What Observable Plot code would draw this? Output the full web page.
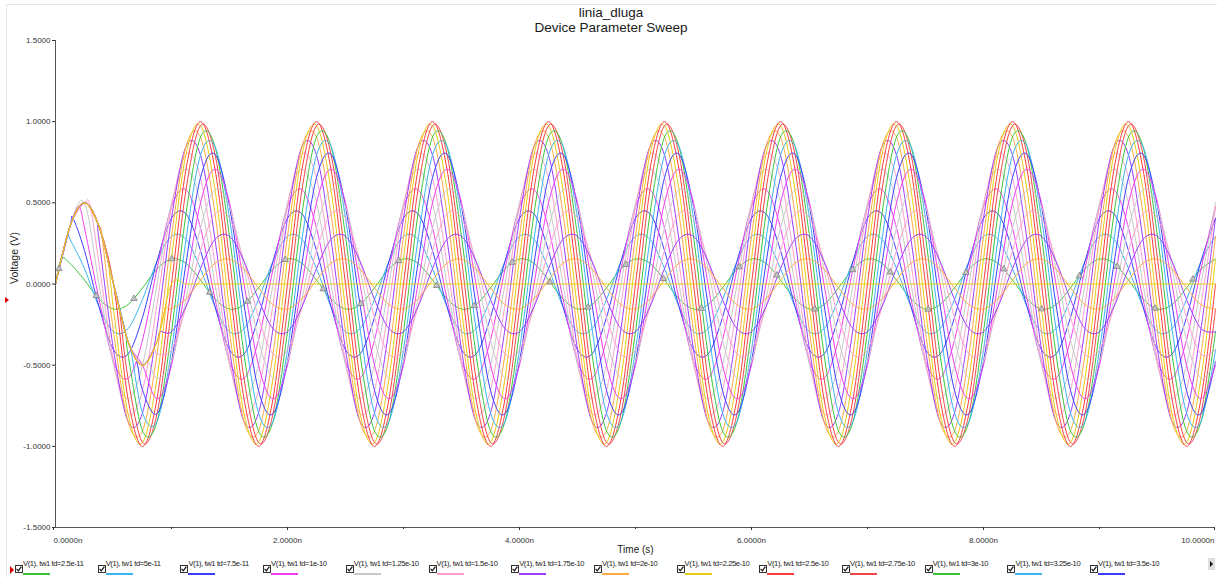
<!DOCTYPE html>
<html>
<head>
<meta charset="utf-8">
<script src="https://cdn.jsdelivr.net/npm/d3@7"></script>
<script src="https://cdn.jsdelivr.net/npm/@observablehq/plot@0.6"></script>
<style>
html,body{margin:0;padding:0;background:#fff;width:1217px;height:577px;overflow:hidden;font-family:"Liberation Sans",Arial,sans-serif;}
#frame{position:absolute;left:6px;top:4px;width:1240px;height:620px;border:1px solid #e4e4e4;}
#title{position:absolute;left:0;top:5px;width:1222px;text-align:center;font-size:13.5px;line-height:15px;color:#1a1a1a;}
#chart{position:absolute;left:0;top:36px;}
#legend{position:absolute;left:0;top:559px;width:1217px;height:18px;}
.entry{position:absolute;top:0;height:18px;width:82px;}
.entry svg.cb{position:absolute;left:0;top:6px;}
.entry .lab{position:absolute;left:8px;top:0;font-size:7.6px;line-height:9px;letter-spacing:-0.4px;color:#222;white-space:nowrap;}
.entry .ul{position:absolute;left:8px;top:14px;width:27px;height:1.5px;}
#mk1{position:absolute;left:5px;top:297px;width:0;height:0;border-top:3px solid transparent;border-bottom:3px solid transparent;border-left:4px solid #e00000;}
#mk2{position:absolute;left:10px;top:566px;width:0;height:0;border-top:4px solid transparent;border-bottom:4px solid transparent;border-left:4px solid #e00000;}
#more{position:absolute;left:1208px;top:558px;width:7px;height:12px;background:#ddd;}
#more:after{content:"";position:absolute;left:2px;top:3px;border-top:3px solid transparent;border-bottom:3px solid transparent;border-left:3px solid #111;}
</style>
</head>
<body>
<div id="frame"></div>
<div id="title">linia_dluga<br>Device Parameter Sweep</div>
<div id="chart"></div>
<div id="mk1"></div>
<div id="legend"></div>
<div id="mk2"></div>
<div id="more"></div>
<script>
// ---- data ----
const tdLabels = ["2.5e-11","5e-11","7.5e-11","1e-10","1.25e-10","1.5e-10","1.75e-10","2e-10","2.25e-10","2.5e-10",
  "2.75e-10","3e-10","3.25e-10","3.5e-10","3.75e-10","4e-10","4.25e-10","4.5e-10","4.75e-10","5e-10"];
const seriesColors = ["#3cc43c","#3cb4f0","#3c3cff","#f03cf0","#c8c8c8","#ff9fd0","#9b3cff","#ffaa44","#e8cc10","#ff3c3c",
  "#f04848","#3cc43c","#3cb4f0","#3c3cff","#f03cf0","#c8c8c8","#ff9fd0","#9b3cff","#ffaa44","#e8cc10"];
const legendVisible = 14;

const timeNs = [
0,.125,.25,.375,.5,.625,.75,.875,
1,1.125,1.25,1.375,1.5,1.625,1.75,1.875,
2,2.125,2.25,2.375,2.5,2.625,2.75,2.875,
3,3.125,3.25,3.375,3.5,3.625,3.75,3.875,
4,4.125,4.25,4.375,4.5,4.625,4.75,4.875,
5,5.125,5.25,5.375,5.5,5.625,5.75,5.875,
6,6.125,6.25,6.375,6.5,6.625,6.75,6.875,
7,7.125,7.25,7.375,7.5,7.625,7.75,7.875,
8,8.125,8.25,8.375,8.5,8.625,8.75,8.875,
9,9.125,9.25,9.375,9.5,9.625,9.75,9.875,
10];

const v01 = [
0,.127,.024,-.092,-.154,-.127,-.024,.092,
.154,.127,.024,-.092,-.154,-.127,-.024,.092,
.154,.127,.024,-.092,-.154,-.127,-.024,.092,
.154,.127,.024,-.092,-.154,-.127,-.024,.092,
.154,.127,.024,-.092,-.154,-.127,-.024,.092,
.154,.127,.024,-.092,-.154,-.127,-.024,.092,
.154,.127,.024,-.092,-.154,-.127,-.024,.092,
.154,.127,.024,-.092,-.154,-.127,-.024,.092,
.154,.127,.024,-.092,-.154,-.127,-.024,.092,
.154,.127,.024,-.092,-.154,-.127,-.024,.092,
.154];
const v02 = [
0,.275,.095,-.14,-.294,-.275,-.095,.14,
.294,.275,.095,-.14,-.294,-.275,-.095,.14,
.294,.275,.095,-.14,-.294,-.275,-.095,.14,
.294,.275,.095,-.14,-.294,-.275,-.095,.14,
.294,.275,.095,-.14,-.294,-.275,-.095,.14,
.294,.275,.095,-.14,-.294,-.275,-.095,.14,
.294,.275,.095,-.14,-.294,-.275,-.095,.14,
.294,.275,.095,-.14,-.294,-.275,-.095,.14,
.294,.275,.095,-.14,-.294,-.275,-.095,.14,
.294,.275,.095,-.14,-.294,-.275,-.095,.14,
.294];
const v03 = [
0,.354,.206,-.14,-.405,-.432,-.206,.14,
.405,.432,.206,-.14,-.405,-.432,-.206,.14,
.405,.432,.206,-.14,-.405,-.432,-.206,.14,
.405,.432,.206,-.14,-.405,-.432,-.206,.14,
.405,.432,.206,-.14,-.405,-.432,-.206,.14,
.405,.432,.206,-.14,-.405,-.432,-.206,.14,
.405,.432,.206,-.14,-.405,-.432,-.206,.14,
.405,.432,.206,-.14,-.405,-.432,-.206,.14,
.405,.432,.206,-.14,-.405,-.432,-.206,.14,
.405,.432,.206,-.14,-.405,-.432,-.206,.14,
.405];
const v04 = [
0,.354,.345,-.092,-.476,-.581,-.345,.092,
.476,.581,.345,-.092,-.476,-.581,-.345,.092,
.476,.581,.345,-.092,-.476,-.581,-.345,.092,
.476,.581,.345,-.092,-.476,-.581,-.345,.092,
.476,.581,.345,-.092,-.476,-.581,-.345,.092,
.476,.581,.345,-.092,-.476,-.581,-.345,.092,
.476,.581,.345,-.092,-.476,-.581,-.345,.092,
.476,.581,.345,-.092,-.476,-.581,-.345,.092,
.476,.581,.345,-.092,-.476,-.581,-.345,.092,
.476,.581,.345,-.092,-.476,-.581,-.345,.092,
.476];
const v05 = [
0,.354,.5,0,-.5,-.707,-.5,0,
.5,.707,.5,0,-.5,-.707,-.5,0,
.5,.707,.5,0,-.5,-.707,-.5,0,
.5,.707,.5,0,-.5,-.707,-.5,0,
.5,.707,.5,0,-.5,-.707,-.5,0,
.5,.707,.5,0,-.5,-.707,-.5,0,
.5,.707,.5,0,-.5,-.707,-.5,0,
.5,.707,.5,0,-.5,-.707,-.5,0,
.5,.707,.5,0,-.5,-.707,-.5,0,
.5,.707,.5,0,-.5,-.707,-.5,0,
.5];
const v06 = [
0,.354,.5,.127,-.476,-.799,-.655,-.127,
.476,.799,.655,.127,-.476,-.799,-.655,-.127,
.476,.799,.655,.127,-.476,-.799,-.655,-.127,
.476,.799,.655,.127,-.476,-.799,-.655,-.127,
.476,.799,.655,.127,-.476,-.799,-.655,-.127,
.476,.799,.655,.127,-.476,-.799,-.655,-.127,
.476,.799,.655,.127,-.476,-.799,-.655,-.127,
.476,.799,.655,.127,-.476,-.799,-.655,-.127,
.476,.799,.655,.127,-.476,-.799,-.655,-.127,
.476,.799,.655,.127,-.476,-.799,-.655,-.127,
.476];
const v07 = [
0,.354,.5,.275,-.405,-.847,-.794,-.275,
.405,.847,.794,.275,-.405,-.847,-.794,-.275,
.405,.847,.794,.275,-.405,-.847,-.794,-.275,
.405,.847,.794,.275,-.405,-.847,-.794,-.275,
.405,.847,.794,.275,-.405,-.847,-.794,-.275,
.405,.847,.794,.275,-.405,-.847,-.794,-.275,
.405,.847,.794,.275,-.405,-.847,-.794,-.275,
.405,.847,.794,.275,-.405,-.847,-.794,-.275,
.405,.847,.794,.275,-.405,-.847,-.794,-.275,
.405,.847,.794,.275,-.405,-.847,-.794,-.275,
.405];
const v08 = [
0,.354,.5,.354,-.294,-.847,-.905,-.432,
.294,.847,.905,.432,-.294,-.847,-.905,-.432,
.294,.847,.905,.432,-.294,-.847,-.905,-.432,
.294,.847,.905,.432,-.294,-.847,-.905,-.432,
.294,.847,.905,.432,-.294,-.847,-.905,-.432,
.294,.847,.905,.432,-.294,-.847,-.905,-.432,
.294,.847,.905,.432,-.294,-.847,-.905,-.432,
.294,.847,.905,.432,-.294,-.847,-.905,-.432,
.294,.847,.905,.432,-.294,-.847,-.905,-.432,
.294,.847,.905,.432,-.294,-.847,-.905,-.432,
.294];
const v09 = [
0,.354,.5,.354,-.155,-.799,-.976,-.581,
.155,.799,.976,.581,-.155,-.799,-.976,-.581,
.155,.799,.976,.581,-.155,-.799,-.976,-.581,
.155,.799,.976,.581,-.155,-.799,-.976,-.581,
.155,.799,.976,.581,-.155,-.799,-.976,-.581,
.155,.799,.976,.581,-.155,-.799,-.976,-.581,
.155,.799,.976,.581,-.155,-.799,-.976,-.581,
.155,.799,.976,.581,-.155,-.799,-.976,-.581,
.155,.799,.976,.581,-.155,-.799,-.976,-.581,
.155,.799,.976,.581,-.155,-.799,-.976,-.581,
.155];
const v10 = [
0,.354,.5,.354,0,-.707,-1,-.707,
0,.707,1,.707,0,-.707,-1,-.707,
0,.707,1,.707,0,-.707,-1,-.707,
0,.707,1,.707,0,-.707,-1,-.707,
0,.707,1,.707,0,-.707,-1,-.707,
0,.707,1,.707,0,-.707,-1,-.707,
0,.707,1,.707,0,-.707,-1,-.707,
0,.707,1,.707,0,-.707,-1,-.707,
0,.707,1,.707,0,-.707,-1,-.707,
0,.707,1,.707,0,-.707,-1,-.707,
0];
const v11 = [
0,.354,.5,.354,0,-.581,-.976,-.799,
-.155,.581,.976,.799,.155,-.581,-.976,-.799,
-.155,.581,.976,.799,.155,-.581,-.976,-.799,
-.155,.581,.976,.799,.155,-.581,-.976,-.799,
-.155,.581,.976,.799,.155,-.581,-.976,-.799,
-.155,.581,.976,.799,.155,-.581,-.976,-.799,
-.155,.581,.976,.799,.155,-.581,-.976,-.799,
-.155,.581,.976,.799,.155,-.581,-.976,-.799,
-.155,.581,.976,.799,.155,-.581,-.976,-.799,
-.155,.581,.976,.799,.155,-.581,-.976,-.799,
-.155];
const v12 = [
0,.354,.5,.354,0,-.432,-.905,-.847,
-.294,.432,.905,.847,.294,-.432,-.905,-.847,
-.294,.432,.905,.847,.294,-.432,-.905,-.847,
-.294,.432,.905,.847,.294,-.432,-.905,-.847,
-.294,.432,.905,.847,.294,-.432,-.905,-.847,
-.294,.432,.905,.847,.294,-.432,-.905,-.847,
-.294,.432,.905,.847,.294,-.432,-.905,-.847,
-.294,.432,.905,.847,.294,-.432,-.905,-.847,
-.294,.432,.905,.847,.294,-.432,-.905,-.847,
-.294,.432,.905,.847,.294,-.432,-.905,-.847,
-.294];
const v13 = [
0,.354,.5,.354,0,-.354,-.794,-.847,
-.405,.275,.794,.847,.405,-.275,-.794,-.847,
-.405,.275,.794,.847,.405,-.275,-.794,-.847,
-.405,.275,.794,.847,.405,-.275,-.794,-.847,
-.405,.275,.794,.847,.405,-.275,-.794,-.847,
-.405,.275,.794,.847,.405,-.275,-.794,-.847,
-.405,.275,.794,.847,.405,-.275,-.794,-.847,
-.405,.275,.794,.847,.405,-.275,-.794,-.847,
-.405,.275,.794,.847,.405,-.275,-.794,-.847,
-.405,.275,.794,.847,.405,-.275,-.794,-.847,
-.405];
const v14 = [
0,.354,.5,.354,0,-.354,-.655,-.799,
-.476,.127,.655,.799,.476,-.127,-.655,-.799,
-.476,.127,.655,.799,.476,-.127,-.655,-.799,
-.476,.127,.655,.799,.476,-.127,-.655,-.799,
-.476,.127,.655,.799,.476,-.127,-.655,-.799,
-.476,.127,.655,.799,.476,-.127,-.655,-.799,
-.476,.127,.655,.799,.476,-.127,-.655,-.799,
-.476,.127,.655,.799,.476,-.127,-.655,-.799,
-.476,.127,.655,.799,.476,-.127,-.655,-.799,
-.476,.127,.655,.799,.476,-.127,-.655,-.799,
-.476];
const v15 = [
0,.354,.5,.354,0,-.354,-.5,-.707,
-.5,0,.5,.707,.5,0,-.5,-.707,
-.5,0,.5,.707,.5,0,-.5,-.707,
-.5,0,.5,.707,.5,0,-.5,-.707,
-.5,0,.5,.707,.5,0,-.5,-.707,
-.5,0,.5,.707,.5,0,-.5,-.707,
-.5,0,.5,.707,.5,0,-.5,-.707,
-.5,0,.5,.707,.5,0,-.5,-.707,
-.5,0,.5,.707,.5,0,-.5,-.707,
-.5,0,.5,.707,.5,0,-.5,-.707,
-.5];
const v16 = [
0,.354,.5,.354,0,-.354,-.5,-.581,
-.476,-.092,.345,.581,.476,.092,-.345,-.581,
-.476,-.092,.345,.581,.476,.092,-.345,-.581,
-.476,-.092,.345,.581,.476,.092,-.345,-.581,
-.476,-.092,.345,.581,.476,.092,-.345,-.581,
-.476,-.092,.345,.581,.476,.092,-.345,-.581,
-.476,-.092,.345,.581,.476,.092,-.345,-.581,
-.476,-.092,.345,.581,.476,.092,-.345,-.581,
-.476,-.092,.345,.581,.476,.092,-.345,-.581,
-.476,-.092,.345,.581,.476,.092,-.345,-.581,
-.476];
const v17 = [
0,.354,.5,.354,0,-.354,-.5,-.432,
-.405,-.14,.206,.432,.405,.14,-.206,-.432,
-.405,-.14,.206,.432,.405,.14,-.206,-.432,
-.405,-.14,.206,.432,.405,.14,-.206,-.432,
-.405,-.14,.206,.432,.405,.14,-.206,-.432,
-.405,-.14,.206,.432,.405,.14,-.206,-.432,
-.405,-.14,.206,.432,.405,.14,-.206,-.432,
-.405,-.14,.206,.432,.405,.14,-.206,-.432,
-.405,-.14,.206,.432,.405,.14,-.206,-.432,
-.405,-.14,.206,.432,.405,.14,-.206,-.432,
-.405];
const v18 = [
0,.354,.5,.354,0,-.354,-.5,-.354,
-.294,-.14,.095,.275,.294,.14,-.095,-.275,
-.294,-.14,.095,.275,.294,.14,-.095,-.275,
-.294,-.14,.095,.275,.294,.14,-.095,-.275,
-.294,-.14,.095,.275,.294,.14,-.095,-.275,
-.294,-.14,.095,.275,.294,.14,-.095,-.275,
-.294,-.14,.095,.275,.294,.14,-.095,-.275,
-.294,-.14,.095,.275,.294,.14,-.095,-.275,
-.294,-.14,.095,.275,.294,.14,-.095,-.275,
-.294,-.14,.095,.275,.294,.14,-.095,-.275,
-.294];
const v19 = [
0,.354,.5,.354,0,-.354,-.5,-.354,
-.154,-.092,.024,.127,.154,.092,-.024,-.127,
-.154,-.092,.024,.127,.154,.092,-.024,-.127,
-.154,-.092,.024,.127,.154,.092,-.024,-.127,
-.154,-.092,.024,.127,.154,.092,-.024,-.127,
-.154,-.092,.024,.127,.154,.092,-.024,-.127,
-.154,-.092,.024,.127,.154,.092,-.024,-.127,
-.154,-.092,.024,.127,.154,.092,-.024,-.127,
-.154,-.092,.024,.127,.154,.092,-.024,-.127,
-.154,-.092,.024,.127,.154,.092,-.024,-.127,
-.154];
const v20 = [
0,.354,.5,.354,0,-.354,-.5,-.354,
0,0,0,0,0,0,0,0,
0,0,0,0,0,0,0,0,
0,0,0,0,0,0,0,0,
0,0,0,0,0,0,0,0,
0,0,0,0,0,0,0,0,
0,0,0,0,0,0,0,0,
0,0,0,0,0,0,0,0,
0,0,0,0,0,0,0,0,
0,0,0,0,0,0,0,0,
0];
const seriesValues = [v01,v02,v03,v04,v05,v06,v07,v08,v09,v10,v11,v12,v13,v14,v15,v16,v17,v18,v19,v20];

// reflection-arrival corner of each trace (time in ns, voltage)
const kneeT = [.05,.1,.15,.2,.25,.3,.35,.4,.45,.5,.55,.6,.65,.7,.75,.8,.85,.9,.95,1];
const kneeV = [.155,.294,.405,.476,.5,.476,.405,.294,.155,0,-.155,-.294,-.405,-.476,-.5,-.476,-.405,-.294,-.155,0];

// cursor markers (triangles) on the first trace
const markerT = [.03,.351,.677,1.003,1.329,1.655,1.981,2.307,2.633,2.959,3.285,3.611,3.937,4.263,4.589,4.915,5.241,5.567,5.893,6.219,6.545,6.871,7.197,7.523,7.849,8.175,8.501,8.827,9.153,9.479,9.805];
const markerV = [.094,-.072,-.09,.154,-.052,-.107,.15,-.031,-.121,.143,-.01,-.134,.133,.012,-.144,.12,.033,-.151,.105,.054,-.155,.088,.073,-.156,.07,.092,-.154,.05,.108,-.15,.029];

const yTicks = [-1.5,-1,-0.5,0,0.5,1,1.5];
const xTicks = [0,2,4,6,8,10];
const xMinorTicks = [1,3,5,7,9];

// ---- build ----
function seriesRows(s) {
  const vals = seriesValues[s];
  const pts = timeNs.map((t, i) => ({t, v: vals[i]}));
  if (!timeNs.includes(kneeT[s])) pts.push({t: kneeT[s], v: kneeV[s]});
  pts.sort((a, b) => a.t - b.t);
  return pts;
}
const lineMarks = seriesValues.map((_, s) =>
  Plot.line(seriesRows(s), {x: "t", y: "v", stroke: seriesColors[s], strokeWidth: 1, curve: "catmull-rom", tension: 0}));
const markerRows = markerT.map((t, i) => ({t, v: markerV[i]}));
const fmtX = d => d.toFixed(4) + "n";

const chart = Plot.plot({
  width: 1217, height: 525,
  marginLeft: 55, marginRight: 2, marginTop: 4, marginBottom: 34,
  x: {domain: [0, 10]},
  y: {domain: [-1.5, 1.5]},
  style: {fontFamily: "'Liberation Sans', Arial, sans-serif", fontSize: "8px", color: "#333", background: "transparent", overflow: "visible"},
  marks: [
    ...lineMarks,
    Plot.dot(markerRows, {x: "t", y: "v", symbol: "triangle", r: 2.4, fill: "#c4c4c4", stroke: "#777", strokeWidth: 0.7}),
    Plot.ruleX([0], {stroke: "#555"}),
    Plot.ruleY([-1.5], {stroke: "#555"}),
    Plot.axisY({ticks: yTicks, tickFormat: d => d.toFixed(4), tickSize: 3, tickPadding: 2, label: null}),
    Plot.axisX({ticks: xTicks.slice(1, -1), tickFormat: fmtX, tickSize: 3, tickPadding: 7, label: null}),
    Plot.axisX({ticks: [xTicks[0]], tickFormat: fmtX, tickSize: 3, tickPadding: 7, textAnchor: "start", dx: -2, label: null}),
    Plot.axisX({ticks: [xTicks[xTicks.length - 1]], tickFormat: fmtX, tickSize: 3, tickPadding: 7, textAnchor: "end", dx: -1, label: null}),
    Plot.axisX({ticks: xMinorTicks, tickFormat: () => "", tickSize: 2, label: null}),
    Plot.text(["Time (s)"], {text: d => d, frameAnchor: "bottom", dy: 25, fontSize: 10, fill: "#222"}),
    Plot.text(["Voltage (V)"], {text: d => d, frameAnchor: "left", dx: -41, rotate: -90, fontSize: 10.5, fill: "#222"})
  ]
});
document.getElementById("chart").appendChild(chart);

// legend
const legend = document.getElementById("legend");
tdLabels.slice(0, legendVisible).forEach((lab, i) => {
  const e = document.createElement("div");
  e.className = "entry";
  e.style.left = (15 + i * 82.7) + "px";
  e.innerHTML = '<svg class="cb" width="8" height="8"><rect x=".5" y=".5" width="7" height="7" fill="#fff" stroke="#333"/>' +
    '<path d="M1.6 3.9 L3.3 5.8 L6.4 1.7" stroke="#111" stroke-width="1.2" fill="none"/></svg>' +
    '<span class="lab">V(1), tw1 td=' + lab + '</span>' +
    '<div class="ul" style="background:' + seriesColors[i] + '"></div>';
  legend.appendChild(e);
});
</script>
</body>
</html>
